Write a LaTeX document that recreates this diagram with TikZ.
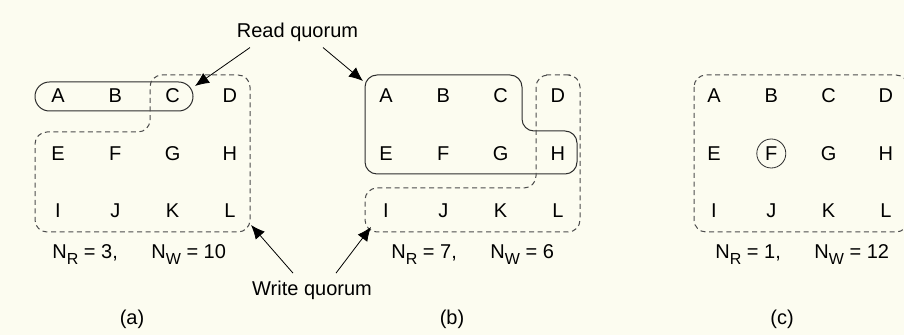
\documentclass[tikz,border=0pt]{standalone}
\usepackage{fontspec}
\setmainfont{Liberation Sans}
\usetikzlibrary{arrows.meta}
\definecolor{paper}{RGB}{252,252,240}
\definecolor{pen}{RGB}{45,45,45}
\newcommand{\qsub}[1]{\raisebox{-0.55ex}{\footnotesize #1}}
\tikzset{
  letter/.style={inner sep=0pt},
  count/.style={inner sep=0pt, anchor=base west},
  readbox/.style={draw=pen, line width=0.5pt, rounded corners=6pt},
  writebox/.style={draw=pen!85, line width=0.5pt, dash pattern=on 2.5pt off 1.8pt, rounded corners=6pt},
  pointer/.style={draw=black, line width=0.4pt, -{Latex[length=7pt,width=6pt]}},
  quorum/.style={inner sep=1pt, anchor=base},
}
\begin{document}
\begin{tikzpicture}[x=0.5pt, y=-0.5pt]
\useasboundingbox (0,0) rectangle (904,335);
\fill[paper] (0,0) rectangle (904,335);
\clip (0,0) rectangle (904,335);

% the twelve replicas, three times
\foreach \p/\x in {a/58,b/386,c/714}{
  \foreach \l [count=\i from 0, evaluate=\i as \c using {mod(\i,4)}, evaluate=\i as \r using {int(\i/4)}]
      in {A,B,C,D,E,F,G,H,I,J,K,L}
    \node[letter] (\p-\l) at ({\x+57.3*\c},{96+57.5*\r}) {\l};
}
\node[draw=pen, circle, minimum size=14.5pt, inner sep=0pt] (c-ring) at (c-F) {};

% (a)
\draw[readbox, rounded corners=7.2pt] (35,82) rectangle (193,111);
\draw[writebox] (200,75) -- (250,75) -- (250,232) -- (35,232) -- (35,132) -- (150,132) -- (150,75) -- cycle;
% (b)
\draw[readbox] (440,75) -- (522,75) -- (522,131) -- (577,131) -- (577,174) -- (365,174) -- (365,75) -- cycle;
\draw[writebox] (558,75) -- (580,75) -- (580,232) -- (365,232) -- (365,188) -- (536,188) -- (536,75) -- cycle;
% (c)
\draw[writebox] (694,75) rectangle (908,232);

\node[count] (na) at (52,259) {N\qsub{R} = 3,\hspace{1.4em} N\qsub{W} = 10};
\node[count] (nb) at (391,259) {N\qsub{R} = 7,\hspace{1.4em} N\qsub{W} = 6};
\node[count] (nc) at (715,259) {N\qsub{R} = 1,\hspace{1.4em} N\qsub{W} = 12};

\node (cap-a) at (132,319) {(a)};
\node (cap-b) at (452,319) {(b)};
\node (cap-c) at (782,319) {(c)};

\node[quorum] (readq) at (297.5,38) {Read quorum};
\node[quorum] (writeq) at (312,296) {Write quorum};

\coordinate (ra) at (195,86);
\coordinate (rb) at (363,81);
\coordinate (wa) at (251,225);
\coordinate (wb) at (371,227);
\draw[pointer] ([xshift=-23.75pt,yshift=-1.5pt]readq.south) -- (ra);
\draw[pointer] ([xshift=12.75pt,yshift=-1.5pt]readq.south) -- (rb);
\draw[pointer] ([xshift=-9.5pt,yshift=3pt]writeq.north) -- (wa);
\draw[pointer] ([xshift=12pt,yshift=3pt]writeq.north) -- (wb);
\end{tikzpicture}
\end{document}
